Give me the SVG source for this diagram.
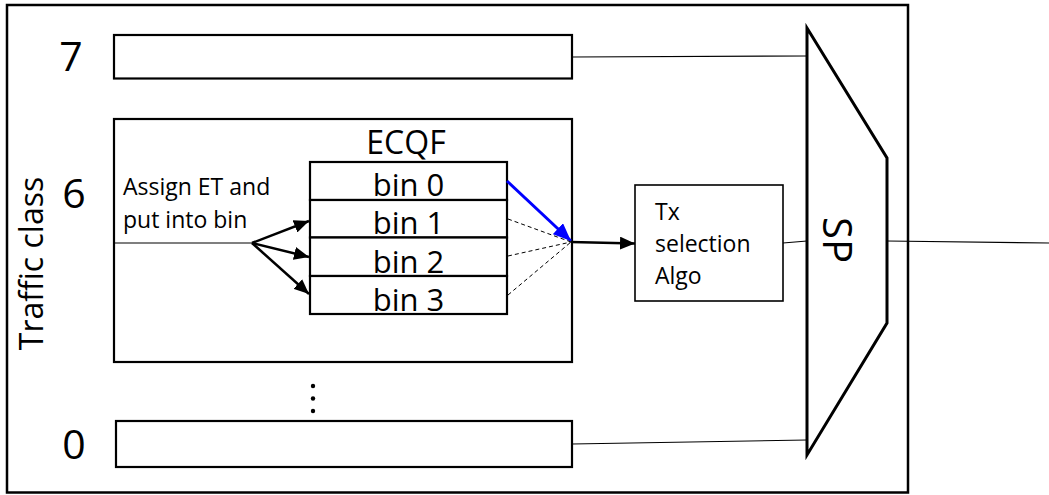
<svg xmlns="http://www.w3.org/2000/svg" width="1049" height="495" viewBox="0 0 1049 495">
  <style>
    .box { fill: #ffffff; stroke: #000000; stroke-width: 2.2; }
    .thin { fill: none; stroke: #000000; stroke-width: 1.2; }
    .arrow { fill: none; stroke: #000000; stroke-width: 2.5; }
    .blue { fill: none; stroke: #0000ff; stroke-width: 3; }
    .dash { fill: none; stroke: #000000; stroke-width: 1; stroke-dasharray: 4 3; }
    .txt { font-family: "Open Sans", "Liberation Sans", sans-serif; fill: #000000; }
    .small { font-size: 23px; }
    .bin { font-size: 31px; text-anchor: middle; }
    .num { font-size: 41px; text-anchor: middle; }
  </style>
  <defs>
    <marker id="head" markerUnits="userSpaceOnUse" markerWidth="15" markerHeight="13" refX="15" refY="6.5" orient="auto">
      <path d="M0,0 L15,6.5 L0,13 z" fill="#000000"/>
    </marker>
    <marker id="headBlue" markerUnits="userSpaceOnUse" markerWidth="18" markerHeight="15" refX="18" refY="7.5" orient="auto">
      <path d="M0,0 L18,7.5 L0,15 z" fill="#0000ff"/>
    </marker>
  </defs>

  <rect width="1049" height="495" fill="#ffffff"/>

  <!-- outer frame -->
  <g id="frame">
    <rect x="7" y="5" width="901" height="487.5" fill="none" stroke="#000000" stroke-width="2.5"/>
    <text class="txt" font-size="32" text-anchor="middle" transform="translate(43,263.5) rotate(-90)">Traffic class</text>
  </g>

  <!-- class labels -->
  <g id="label-7"><text class="txt num" x="71" y="71">7</text></g>
  <g id="label-6"><text class="txt num" x="74" y="208">6</text></g>
  <g id="label-0"><text class="txt num" x="74" y="459">0</text></g>

  <!-- queue for class 7 -->
  <g id="queue-7">
    <rect class="box" x="114" y="35" width="458" height="43.5"/>
  </g>

  <!-- class 6 with ECQF -->
  <g id="class-6">
    <rect class="box" x="114" y="119" width="458" height="243"/>
    <text class="txt small" x="123" y="195">Assign ET and</text>
    <text class="txt small" x="123" y="228">put into bin</text>
  </g>

  <g id="ecqf">
    <text class="txt" font-size="32" text-anchor="middle" x="406" y="154">ECQF</text>
    <rect class="box" x="310" y="162" width="197" height="38"/>
    <rect class="box" x="310" y="200" width="197" height="37.5"/>
    <rect class="box" x="310" y="237.5" width="197" height="38.5"/>
    <rect class="box" x="310" y="276" width="197" height="38"/>
    <text class="txt bin" x="408.5" y="196">bin 0</text>
    <text class="txt bin" x="408.5" y="234">bin 1</text>
    <text class="txt bin" x="408.5" y="273">bin 2</text>
    <text class="txt bin" x="408.5" y="311">bin 3</text>
  </g>

  <!-- continuation dots -->
  <g id="dots">
    <circle cx="313" cy="386" r="2.2" fill="#000000"/>
    <circle cx="313" cy="398.5" r="2.2" fill="#000000"/>
    <circle cx="313" cy="411" r="2.2" fill="#000000"/>
  </g>

  <!-- queue for class 0 -->
  <g id="queue-0">
    <rect class="box" x="116" y="421" width="456" height="46"/>
  </g>

  <!-- transmission selection -->
  <g id="tx-select">
    <rect x="635" y="185" width="148" height="116" fill="#ffffff" stroke="#000000" stroke-width="1.6"/>
    <text class="txt small" x="655" y="220">Tx</text>
    <text class="txt small" x="655" y="252">selection</text>
    <text class="txt small" x="655" y="284">Algo</text>
  </g>

  <!-- strict priority selector -->
  <g id="sp">
    <polygon points="807,28 887,158 887,323 807,455" fill="#ffffff" stroke="#000000" stroke-width="3" stroke-linejoin="miter"/>
    <text class="txt" font-size="40" text-anchor="middle" transform="translate(823,240) rotate(90)">SP</text>
  </g>

  <!-- connectors -->
  <g id="connectors">
    <line class="thin" x1="114" y1="243" x2="252" y2="243"/>
    <line class="arrow" x1="252" y1="243" x2="309" y2="221" marker-end="url(#head)"/>
    <line class="arrow" x1="252" y1="243" x2="309" y2="257" marker-end="url(#head)"/>
    <line class="arrow" x1="252" y1="243" x2="309" y2="294" marker-end="url(#head)"/>

    <line class="blue" x1="507" y1="181" x2="571" y2="241" marker-end="url(#headBlue)"/>
    <line class="dash" x1="508" y1="219" x2="571" y2="242"/>
    <line class="dash" x1="508" y1="256" x2="571" y2="242"/>
    <line class="dash" x1="508" y1="295" x2="571" y2="242"/>

    <line class="arrow" x1="571" y1="242" x2="635" y2="243.5" marker-end="url(#head)"/>

    <line class="thin" x1="572" y1="57" x2="807" y2="56"/>
    <line class="thin" x1="572" y1="444" x2="807" y2="440"/>
    <line class="thin" x1="783" y1="243" x2="807" y2="241"/>
    <line class="thin" x1="887" y1="241" x2="1049" y2="243"/>
  </g>
</svg>
